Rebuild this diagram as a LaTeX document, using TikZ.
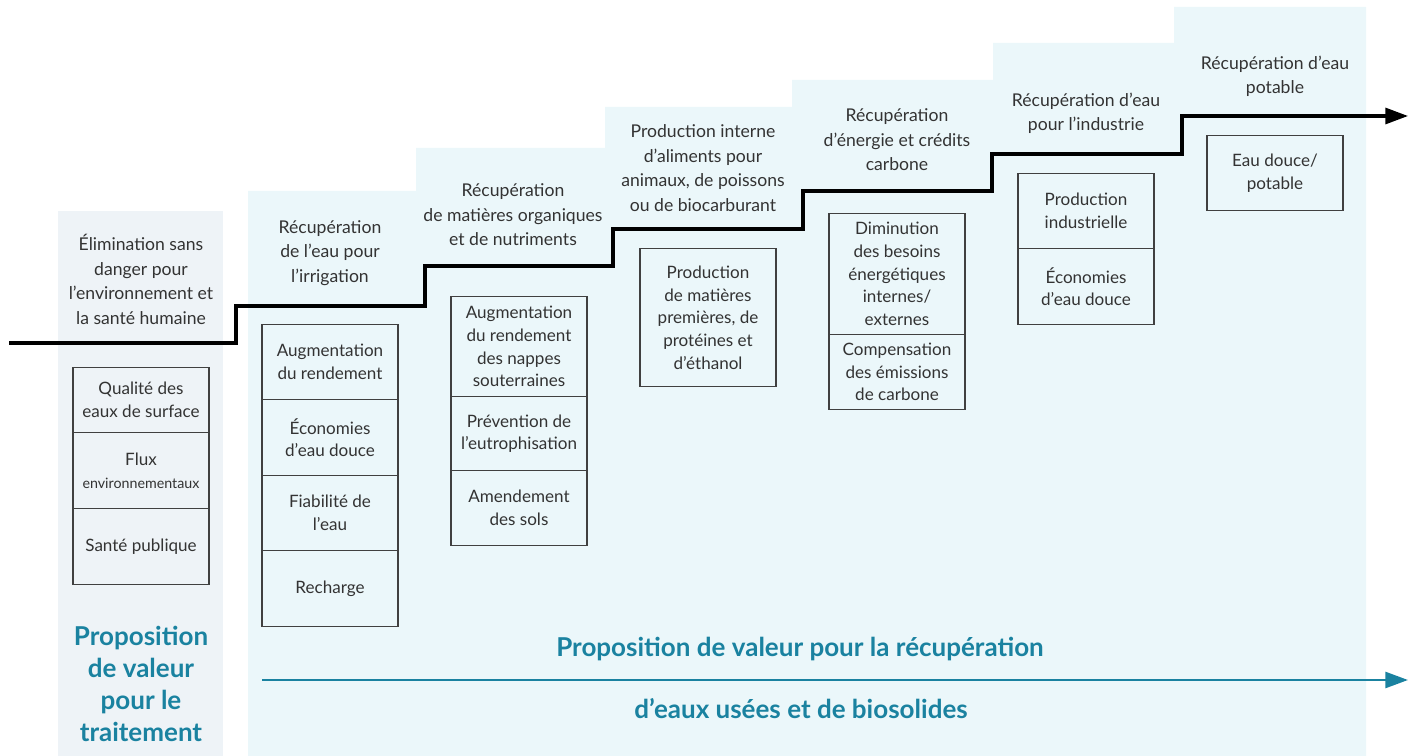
\documentclass[tikz,border=0pt]{standalone}
\usepackage{fontspec}
\setmainfont{Lato}
\usepackage{xcolor}
\usetikzlibrary{arrows.meta,positioning}
\definecolor{ink}{HTML}{333333}
\definecolor{cellline}{HTML}{404040}
\definecolor{valteal}{HTML}{1A82A0}
\definecolor{panelgray}{HTML}{EEF3F7}
\definecolor{panelcyan}{HTML}{EBF7FA}

\begin{document}
\begin{tikzpicture}[x=0.75pt,y=-0.75pt,>={Triangle[length=17pt,width=12pt]},
  cell/.style={draw=cellline,line width=0.8pt,anchor=north,align=center,minimum width=102pt,inner sep=2pt,text=ink,font=\fontsize{12.8}{17}\selectfont},
  head/.style={align=center,text=ink,font=\fontsize{13.2}{18.4}\selectfont},
  big/.style={align=center,text=valteal,font=\bfseries\fontsize{19.5}{24}\selectfont}]
\useasboundingbox (0,0) rectangle (1418,756);
\fill[panelgray] (58,211) rectangle (223,756);
\fill[panelcyan] (248,756) |- (416,191) |- (605,148) |- (792,107) |- (993,80) |- (1174,43) |- (1366,7) -- (1366,756) -- cycle;
\coordinate (s0) at (9,343);
\coordinate (s7) at (1408,116);
\draw[->,line width=2.3pt] (s0) -| (236,306) -| (425,266) -| (613,229) -| (803,191) -| (992,154) -| (1182,116) -- (s7);
\node[head] (h1) at (141,279.5) {Élimination sans\\danger pour\\l’environnement et\\la santé humaine};
\node[head] (h2) at (330,253) {Récupération\\de l’eau pour\\l’irrigation};
\node[head] (h3) at (513,215) {Récupération\\de matières organiques\\et de nutriments};
\node[head] (h4) at (703,168) {Production interne\\d’aliments pour\\animaux, de poissons\\ou de biocarburant};
\node[head] (h5) at (897,140) {Récupération\\d’énergie et crédits\\carbone};
\node[head] (h6) at (1086,113.5) {Récupération d’eau\\pour l’industrie};
\node[head] (h7) at (1275,76.5) {Récupération d’eau\\potable};
\node[cell,minimum height=48.75pt] (c11) at (141,367) {Qualité des\\eaux de surface};
\node[cell,minimum height=57pt] (c12) at (141,432) {Flux\\{\fontsize{10.7}{14}\selectfont environnementaux}};
\node[cell,minimum height=57pt] (c13) at (141,508) {Santé publique};
\node[cell,minimum height=56.25pt] (c21) at (330,324) {Augmentation\\du rendement};
\node[cell,minimum height=57pt] (c22) at (330,399) {Économies\\d’eau douce};
\node[cell,minimum height=56.25pt] (c23) at (330,475) {Fiabilité de\\l’eau};
\node[cell,minimum height=57pt] (c24) at (330,550) {Recharge};
\node[cell,minimum height=75pt] (c31) at (519,296) {Augmentation\\du rendement\\des nappes\\souterraines};
\node[cell,minimum height=55.5pt] (c32) at (519,396) {Prévention de\\l’eutrophisation};
\node[cell,minimum height=56.25pt] (c33) at (519,470) {Amendement\\des sols};
\node[cell,minimum height=103.5pt] (c41) at (708,248) {Production\\de matières\\premières, de\\protéines et\\d’éthanol};
\node[cell,minimum height=90.75pt] (c51) at (897,213) {Diminution\\des besoins\\énergétiques\\internes/\\externes};
\node[cell,minimum height=56.25pt] (c52) at (897,334) {Compensation\\des émissions\\de carbone};
\node[cell,minimum height=56.25pt] (c61) at (1086,173) {Production\\industrielle};
\node[cell,minimum height=57pt] (c62) at (1086,248) {Économies\\d’eau douce};
\node[cell,minimum height=56.25pt] (c71) at (1275,135) {Eau douce/\\potable};
\node[big] (t1) at (141,683.5) {Proposition\\de valeur\\pour le\\traitement};
\coordinate (v0) at (262,680);
\coordinate (v1) at (1408,680);
\draw[->,valteal,line width=2pt] (v0) -- (v1);
\node[big] (t2) at (800,649) {Proposition de valeur pour la récupération};
\node[big] (t3) at (801,709) {d’eaux usées et de biosolides};
\end{tikzpicture}
\end{document}
